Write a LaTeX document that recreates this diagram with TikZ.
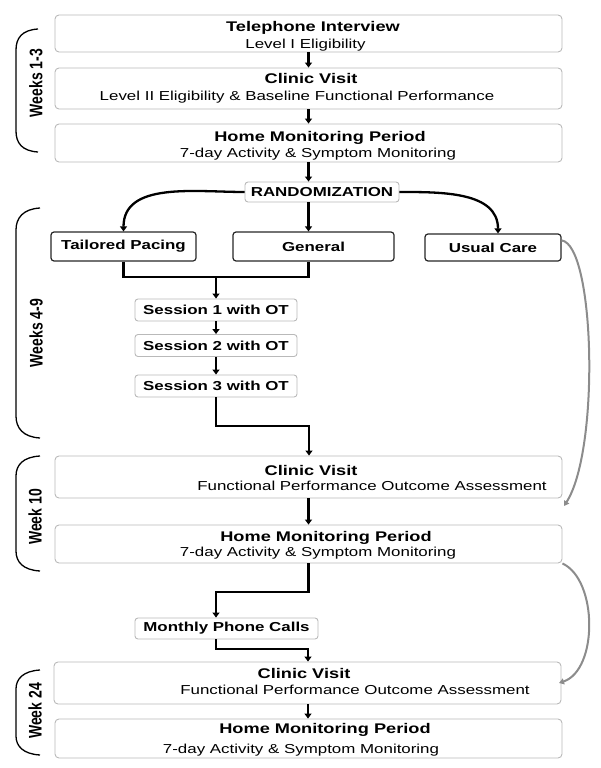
\documentclass[tikz,border=0pt]{standalone}
\usepackage{fontspec}
\setmainfont{Liberation Sans}[FakeStretch=1.3]
\newfontfamily\wkfont{Liberation Sans}
\usetikzlibrary{arrows.meta}
\begin{document}
\begin{tikzpicture}[x=1pt,y=-1pt,
  bigbox/.style={draw=gray!55, line width=0.9pt, rounded corners=4pt, minimum width=507pt, inner sep=0pt},
  gbox/.style={draw=gray!55, line width=0.9pt, rounded corners=3pt, inner sep=0pt, font=\fontsize{13}{15}\selectfont\bfseries},
  dbox/.style={draw=black!85, line width=1.2pt, rounded corners=3pt, inner sep=0pt, font=\fontsize{13}{15}\selectfont\bfseries},
  ttl/.style={font=\fontsize{14}{16}\selectfont\bfseries, inner sep=0pt, anchor=base},
  subt/.style={font=\fontsize{13}{15}\selectfont, inner sep=0pt, anchor=base},
  arr/.style={line width=2.3pt, -{Triangle[length=5pt,width=7pt]}},
  ln/.style={line width=2.3pt},
  garr/.style={draw=gray!90, line width=2pt, -{Triangle[length=5pt,width=6pt]}},
  brc/.style={line width=1.3pt},
  wk/.style={font=\wkfont\fontsize{14}{16}\selectfont\bfseries, rotate=90, inner sep=0pt}
]
\useasboundingbox (0,0) rectangle (600,768);

% big boxes
\node[bigbox, minimum height=37pt] (b1) at (308.5,33.5) {};
\node[bigbox, minimum height=41pt] (b2) at (308.5,88.5) {};
\node[bigbox, minimum height=38pt] (b3) at (308.5,143) {};
\node[bigbox, minimum height=42pt] (c2) at (308.5,477) {};
\node[bigbox, minimum height=38pt] (h2) at (308.5,544) {};
\node[bigbox, minimum height=42pt] (c3) at (307.5,683) {};
\node[bigbox, minimum height=39pt] (h3) at (308.5,738.5) {};

% texts
\node[ttl] (b1t) at (313,32) {Telephone Interview};
\node[subt] (b1s) at (305.5,48.5) {Level I Eligibility};
\node[ttl] (b2t) at (311,84) {Clinic Visit};
\node[subt] (b2s) at (297,100.5) {Level II Eligibility \& Baseline Functional Performance};
\node[ttl] (b3t) at (320,141) {Home Monitoring Period};
\node[subt] (b3s) at (318,157.5) {7-day Activity \& Symptom Monitoring};
\node[ttl] (c2t) at (311,475) {Clinic Visit};
\node[subt] (c2s) at (372,490.5) {Functional Performance Outcome Assessment};
\node[ttl] (h2t) at (326,541) {Home Monitoring Period};
\node[subt] (h2s) at (318,556.5) {7-day Activity \& Symptom Monitoring};
\node[ttl] (c3t) at (304,678) {Clinic Visit};
\node[subt] (c3s) at (355,694.5) {Functional Performance Outcome Assessment};
\node[ttl] (h3t) at (325,733) {Home Monitoring Period};
\node[subt] (h3s) at (301,753.5) {7-day Activity \& Symptom Monitoring};

% small boxes
\node[gbox, minimum width=154pt, minimum height=20pt] (rand) at (322,192) {RANDOMIZATION};
\node[dbox, minimum width=145pt, minimum height=29pt] (tp) at (123.5,246.5) {Tailored Pacing};
\node[dbox, minimum width=161pt, minimum height=29pt] (gen) at (313.5,246.5) {General};
\node[dbox, minimum width=136pt, minimum height=27pt] (uc) at (493,247.5) {Usual Care};
\node[gbox, minimum width=162pt, minimum height=22pt] (s1) at (216,310) {Session 1 with OT};
\node[gbox, minimum width=162pt, minimum height=22pt] (s2) at (216,345.5) {Session 2 with OT};
\node[gbox, minimum width=162pt, minimum height=22pt] (s3) at (216,386) {Session 3 with OT};
\node[gbox, minimum width=183pt, minimum height=21pt] (mp) at (226.5,628.5) {Monthly Phone Calls};

% junction coordinates
\coordinate (j1) at (216,277);
\coordinate (j2) at (309,426);
\coordinate (j3) at (216,592);
\coordinate (j4) at (308,649);
\coordinate (g1) at (564,506);
\coordinate (g2) at (559,683);

% arrows
\draw[arr] (b1.south) -- (b2.north);
\draw[arr] (b2.south) -- (b3.north);
\draw[arr] (b3.south) -- (b3.south |- rand.north);
\draw[arr] (rand.west) to[out=180,in=90] (tp.north);
\draw[arr] (rand.east) to[out=0,in=90] ([xshift=5pt]uc.north);
\draw[arr] (rand.south -| b3.south) -- (gen.north -| b3.south);
\draw[ln] (tp.south) |- (j1) -| (gen.south -| b3.south);
\draw[arr] (j1) -- (s1.north);
\draw[arr] (s1.south) -- (s2.north);
\draw[arr] (s2.south) -- (s3.north);
\draw[arr] (s3.south) |- (j2) -- (j2 |- c2.north);
\draw[arr] (c2.south) -- (h2.north);
\draw[arr] (h2.south) |- (j3) -- (j3 |- mp.north);
\draw[arr] (j3 |- mp.south) |- (j4) -- (j4 |- c3.north);
\draw[arr] (j4 |- c3.south) -- (j4 |- h3.north);

% gray curved arrows
\draw[garr] ([yshift=-7pt]uc.north east) .. controls (595,245) and (600,450) .. (g1);
\draw[garr] (h2.south east) .. controls (598,580) and (598,670) .. (g2);

% braces
\draw[brc] (38,29) .. controls (22,30) and (16,38) .. (16,50) -- (16,131) .. controls (16,143) and (22,151) .. (38,152);
\draw[brc] (40,208) .. controls (23,209) and (16,218) .. (16,230) -- (16,416) .. controls (16,428) and (23,437) .. (40,438);
\draw[brc] (40,456) .. controls (23,457) and (16,465) .. (16,476) -- (16,551) .. controls (16,562) and (23,570) .. (40,571);
\draw[brc] (40,670) .. controls (23,671) and (16,679) .. (16,689) -- (16,736) .. controls (16,746) and (23,754) .. (40,755);

% week labels
\node[wk] (w1) at (36,83) {\scalebox{1}[1.3]{Weeks 1-3}};
\node[wk] (w2) at (36,333) {\scalebox{1}[1.3]{Weeks 4-9}};
\node[wk] (w3) at (35,517) {\scalebox{1}[1.3]{Week 10}};
\node[wk] (w4) at (35,711) {\scalebox{1}[1.3]{Week 24}};
\end{tikzpicture}
\end{document}
